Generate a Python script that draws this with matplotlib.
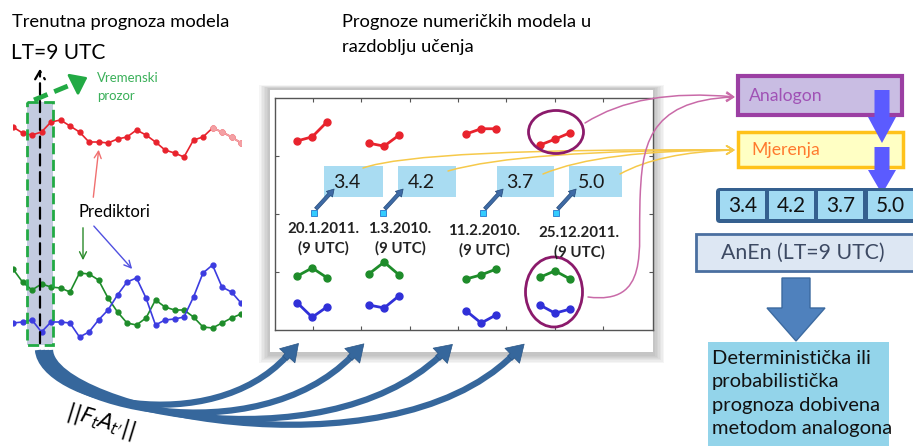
import numpy as np
import matplotlib.pyplot as plt
from matplotlib.patches import Rectangle, Ellipse, FancyArrowPatch, FancyArrow, FancyBboxPatch, PathPatch
from matplotlib.path import Path

plt.rcParams['font.family'] = ['Lato', 'DejaVu Sans']

# current model forecast: three predictors (arbitrary heights)
red_pred = [319, 313, 311, 314, 324, 326, 320, 314, 304, 304, 303, 307, 309,
            316, 311, 304, 296, 293, 289, 306, 309, 318, 314, 309, 303]
green_pred = [177, 164, 156, 162, 159, 158, 154, 173, 172, 166, 148, 134, 123,
              121, 128, 146, 139, 136, 136, 129, 119, 118, 123, 128, 132]
blue_pred = [123, 124, 126, 114, 124, 124, 123, 109, 114, 126, 136, 151, 164,
             168, 148, 121, 126, 127, 129, 149, 173, 181, 159, 154, 143]

# analogs from the training period
analog_dates = ['20.1.2011.', '1.3.2010.', '11.2.2010.', '25.12.2011.']
analog_values = [3.4, 4.2, 3.7, 5.0]
analog_x = [0.77, 2.26, 4.27, 5.8]
red_seg = [[3.26, 3.33, 3.59], [3.22, 3.17, 3.36], [3.38, 3.47, 3.47], [3.19, 3.29, 3.40]]
green_seg = [[0.93, 1.07, 0.90], [0.97, 1.17, 0.95], [0.88, 0.95, 1.05], [0.91, 1.02, 0.88]]
blue_seg = [[0.47, 0.22, 0.40], [0.43, 0.38, 0.59], [0.33, 0.12, 0.26], [0.43, 0.29, 0.36]]

result_lines = ['Deterministička ili', 'probabilistička', 'prognoza dobivena', 'metodom analogona']

W, H = 913, 446
fig = plt.figure(figsize=(W / 100, H / 100), dpi=100)


def px_axes(x0, y0, x1, y1, z):
    # axes placed by pixel box (y measured from top)
    return fig.add_axes([x0 / W, 1 - y1 / H, (x1 - x0) / W, (y1 - y0) / H], zorder=z)


bg = fig.add_axes([0, 0, 1, 1], zorder=0)
bg.set_xlim(0, W); bg.set_ylim(H, 0); bg.axis('off')

# card with soft shadow
for i in range(7):
    bg.add_patch(Rectangle((268 - i * 1.5, 88 - i * 0.5), 387 + i * 3, 268 + i * 1.6,
                           fc='#606060', alpha=0.06, lw=0))
bg.add_patch(Rectangle((270, 90), 383, 262, fc='white', lw=0))
# time window band
bg.add_patch(Rectangle((27, 102), 26, 243, fc='#c3cbe0', lw=0))

# left panel
axl = px_axes(13, 100, 241, 346, 1)
axl.patch.set_visible(False); axl.axis('off')
axl.set_xlim(0, 24); axl.set_ylim(100, 346)
xs = np.arange(len(red_pred))
axl.plot(xs, red_pred, '-o', color='#e8232d', lw=1.2, ms=3.5)
axl.plot(xs[-4:], red_pred[-4:], '-o', color='#f4a0a4', lw=1.2, ms=3.5)
axl.plot(xs, green_pred, '-o', color='#1e8c2a', lw=1.2, ms=3.5)
axl.plot(xs, blue_pred, '-o', color='#3c3ce0', lw=1.2, ms=3.5)

# training-period panel
axm = px_axes(275, 98, 653, 330, 1)
axm.set_xlim(0, 7.83); axm.set_ylim(0, 4)
axm.set_xticks(np.arange(0.79, 7.5, 1.0)); axm.set_yticks([1, 2, 3])
axm.tick_params(direction='in', length=3, top=True, right=True,
                labelbottom=False, labelleft=False, color='#555555')
for s in axm.spines.values():
    s.set_color('#555555'); s.set_linewidth(1)
off = np.array([-0.31, 0, 0.31])
for i, cx in enumerate(analog_x):
    axm.plot(cx + off, red_seg[i], '-o', color='#e8232d', lw=2, ms=5)
    axm.plot(cx + off, green_seg[i], '-o', color='#1e8c2a', lw=2, ms=5)
    axm.plot(cx + off, blue_seg[i], '-o', color='#3030d8', lw=2, ms=5)

ax = fig.add_axes([0, 0, 1, 1], zorder=2)
ax.set_xlim(0, W); ax.set_ylim(H, 0); ax.axis('off'); ax.patch.set_visible(False)

# titles
ax.text(12, 22, 'Trenutna prognoza modela', fontsize=13.2, va='center')
ax.text(11, 53, 'LT=9 UTC', fontsize=15, va='center')
ax.text(342, 22, 'Prognoze numeričkih modela u', fontsize=13.2, va='center')
ax.text(342, 47, 'razdoblju učenja', fontsize=13.2, va='center')

# time window marks
ax.add_patch(Rectangle((27, 102), 26, 243, fc='none', ec='#22aa44', lw=2, ls=(0, (4, 2))))
ax.annotate('', xy=(40, 66), xytext=(40, 346),
            arrowprops=dict(arrowstyle='->,head_length=0.6,head_width=0.35', color='black',
                            lw=1.6, ls=(0, (5, 3))))
ax.plot([34, 80], [100, 81], color='#22aa44', lw=3.5, ls=(0, (3, 1.5)))
ax.add_patch(FancyArrowPatch((76, 83), (90, 76), arrowstyle='-|>,head_length=8,head_width=6',
                             color='#22aa44', lw=2, mutation_scale=1.2))
ax.text(97, 78, 'Vremenski', fontsize=9.5, color='#3bb05a', va='center')
ax.text(97, 96, 'prozor', fontsize=9.5, color='#3bb05a', va='center')

# predictor pointers
ax.text(78, 212, 'Prediktori', fontsize=12, va='center')
for (x0, y0, x1, y1, c) in [(93, 200, 99, 147, '#f07070'), (83, 225, 83, 263, '#2a8a2a'),
                            (92, 224, 134, 271, '#5050e0')]:
    ax.annotate('', xy=(x1, y1), xytext=(x0, y0),
                arrowprops=dict(arrowstyle='->,head_length=0.5,head_width=0.25', color=c, lw=1))

# big curved arrows from time window to the analogs
starts = [38, 42, 46, 50]
mid1 = [(42, 400), (45, 405), (48, 408), (52, 410)]
mid2 = [(210, 440), (255, 455), (320, 468), (385, 480)]
tips = [(287, 356), (352, 356), (440, 356), (512, 356)]
for sx, m1, m2, tp in zip(starts, mid1, mid2, tips):
    p = Path([(sx, 350), m1, m2, tp], [Path.MOVETO, Path.CURVE4, Path.CURVE4, Path.CURVE4])
    ax.add_patch(PathPatch(p, fc='none', ec='#36679c', lw=4.5, capstyle='butt'))
    u = np.array(tp) - np.array(m2)
    u = u / np.hypot(*u)
    ax.add_patch(FancyArrowPatch(tuple(np.array(tp) - 3 * u), tuple(np.array(tp) + 17 * u),
                                 arrowstyle='simple,tail_width=4.5,head_width=15,head_length=12',
                                 fc='#36679c', ec='#2a5585', lw=0.5, shrinkA=0, shrinkB=0))
ax.text(100, 421, r'$||F_tA_{t^\prime}||$', fontsize=15, rotation=-17, ha='center', va='center')

# analog value boxes and dates
box_x = [324, 398, 497, 569]
box_w = [59, 58, 57, 53]
sq_x = [314, 383, 483, 556]
date_x = [323, 400, 484, 579]
date_y = [229, 229, 231, 233]
for i in range(4):
    ax.add_patch(Rectangle((box_x[i], 166), box_w[i], 31, fc='#a9dcf2', lw=0))
    ax.text(box_x[i] + 23, 183, f'{analog_values[i]:.1f}', fontsize=14, ha='center',
            va='center', color='#1a1a1a')
    ax.add_patch(FancyArrowPatch((sq_x[i], 211), (sq_x[i] + 22, 187),
                                 arrowstyle='simple,tail_width=2.5,head_width=6,head_length=5',
                                 fc='#3e6aa5', ec='#244a7a', lw=0.5))
    ax.add_patch(Rectangle((sq_x[i] - 3, 210), 6, 6, fc='#33ccff', ec='#2277cc', lw=0.6))
    ax.text(date_x[i], date_y[i], analog_dates[i], fontsize=10.8, fontweight='bold',
            ha='center', va='center', color='#222222')
    ax.text(date_x[i], date_y[i] + 19, '(9 UTC)', fontsize=10.8, fontweight='bold',
            ha='center', va='center', color='#222222')

# yellow links to measurements
for (x0, y0), (cx, cy) in zip([(363, 168), (448, 171), (543, 174), (620, 174)],
                              [(420, 148), (520, 150), (600, 150), (660, 152)]):
    p = Path([(x0, y0), (cx, cy), (735, 150)], [Path.MOVETO, Path.CURVE3, Path.CURVE3])
    ax.add_patch(FancyArrowPatch(path=p, arrowstyle='->,head_length=5,head_width=3',
                                 color='#f6c94a', lw=1.1))

# pink links to analog
ax.add_patch(Ellipse((556, 132), 55, 43, fc='none', ec='#8b1a6b', lw=2))
ax.add_patch(Ellipse((554, 292), 57, 70, fc='none', ec='#8b1a6b', lw=2))
p = Path([(585, 123), (640, 88), (735, 97)], [Path.MOVETO, Path.CURVE3, Path.CURVE3])
ax.add_patch(FancyArrowPatch(path=p, arrowstyle='->,head_length=5,head_width=3',
                             color='#c96aa8', lw=1.1))
p = Path([(588, 297), (650, 305), (638, 250), (640, 200), (642, 150), (645, 100), (735, 97)],
         [Path.MOVETO, Path.CURVE4, Path.CURVE4, Path.CURVE4, Path.CURVE4, Path.CURVE4, Path.CURVE4])
ax.add_patch(FancyArrowPatch(path=p, arrowstyle='->,head_length=5,head_width=3',
                             color='#c96aa8', lw=1.1))

# right column
ax.add_patch(Rectangle((738, 76), 164, 39, fc='#c9bde3', ec='#9b3fa3', lw=3))
ax.text(749, 96, 'Analogon', fontsize=12.7, color='#a052b5', va='center')
ax.add_patch(Rectangle((738, 132), 165, 35, fc='#ffffc4', ec='#ffc21a', lw=2.5))
ax.text(751, 150, 'Mjerenja', fontsize=12.7, color='#ff7a2e', va='center')
ax.add_patch(FancyArrow(882, 90, 0, 53, width=15, head_width=28, head_length=26,
                        length_includes_head=True, fc='#5b5bff', lw=0))
ax.add_patch(FancyArrow(882, 147, 0, 47, width=15, head_width=28, head_length=24,
                        length_includes_head=True, fc='#5b5bff', lw=0))

ax.add_patch(FancyBboxPatch((716, 188), 205, 35, boxstyle='round,pad=0,rounding_size=4',
                            fc='#35608f', lw=0))
cell_x = [720, 769, 818, 868]
for cx, v in zip(cell_x, analog_values):
    ax.add_patch(Rectangle((cx, 191), 45, 28, fc='#a2daf2', lw=0))
    ax.text(cx + 22.5, 206, f'{v:.1f}', fontsize=15, ha='center', va='center', color='#111111')

ax.add_patch(Rectangle((696, 234), 230, 37, fc='#dde7f3', ec='#4a6fa0', lw=2))
ax.text(721, 253, 'AnEn (LT=9 UTC)', fontsize=15.3, color='#3d4a63', va='center')

ax.add_patch(FancyArrow(796, 278, 0, 63, width=28, head_width=58, head_length=33,
                        length_includes_head=True, fc='#4f81bd', ec='#3c6aa0', lw=1))
ax.add_patch(Rectangle((708, 342), 181, 110, fc='#93d4ea', lw=0))
for k, line in enumerate(result_lines):
    ax.text(712, 358 + 23.5 * k, line, fontsize=14.5, va='center', color='#111111')

fig.savefig('out.png', dpi=100)
